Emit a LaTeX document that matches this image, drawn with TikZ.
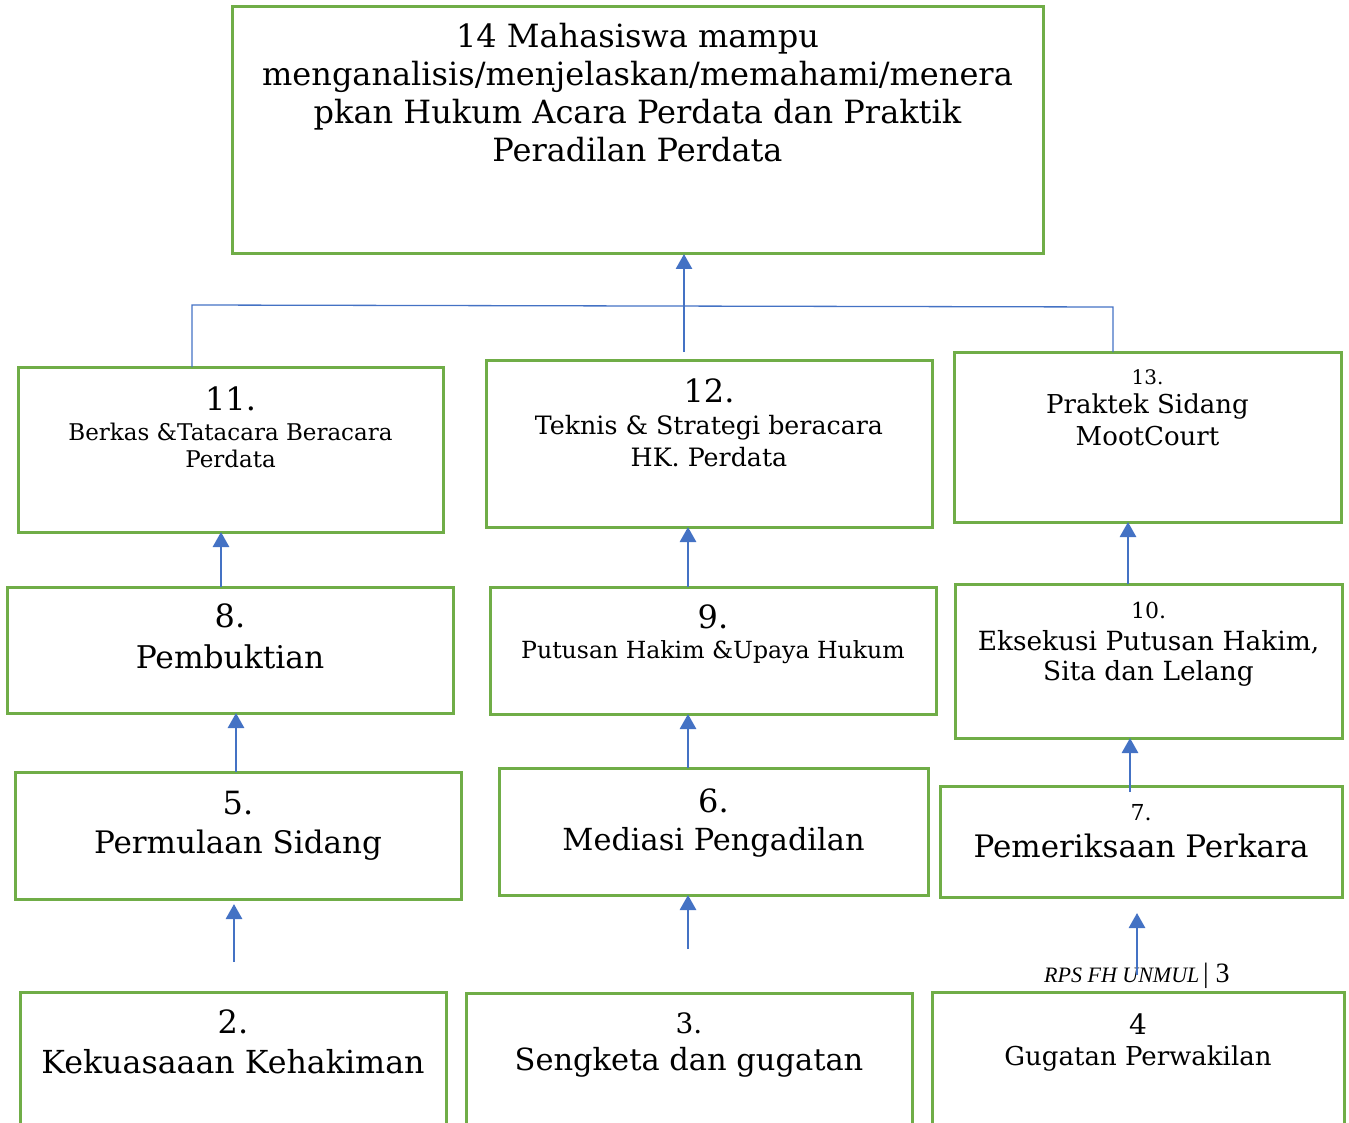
\documentclass[tikz,border=0pt]{standalone}
\usepackage{fontspec}
\setmainfont{DejaVu Serif}
\newfontfamily\footfont{Liberation Serif}
\usetikzlibrary{arrows.meta}
\definecolor{gr}{HTML}{70AD47}
\definecolor{bl}{HTML}{4472C4}
\tikzset{
  gbox/.style={draw=gr, line width=3pt, inner sep=0pt, outer sep=0pt, fill=white},
  arr/.style={draw=bl, line width=2.8pt, -{Triangle[width=16pt,length=15pt]}},
  bline/.style={draw=bl, line width=1.3pt},
  lbl/.style={anchor=base, inner sep=0pt, outer sep=0pt, text=black},
}
\newcommand\mkbox[5]{\node[gbox, minimum width={#4-#2}, minimum height={#5-#3}] (#1) at ({(#2+#4)/2},{(#3+#5)/2}) {};}
\newcommand\mktxt[5]{\node[lbl, font=\fontsize{#4}{#4}\selectfont] (#1) at (#2,#3) {#5};}
\begin{document}
\begin{tikzpicture}[x=1pt,y=-1pt]
\useasboundingbox (0,0) rectangle (1349,1123);
\clip (0,0) rectangle (1349,1123);
% boxes
\mkbox{top}{232}{7}{1043}{254}
\mkbox{b11}{18}{367}{443}{532}
\mkbox{b12}{486}{360}{932}{527}
\mkbox{b13}{954}{352}{1341}{522}
\mkbox{b8}{7}{587}{453}{713}
\mkbox{b9}{490}{587}{936}{714}
\mkbox{b10}{955}{584}{1342}{738}
\mkbox{b5}{15}{772}{461}{899}
\mkbox{b6}{499}{768}{928}{895}
\mkbox{b7}{940}{786}{1342}{897}
\mkbox{b2}{20}{992}{446}{1140}
\mkbox{b3}{466}{993}{912}{1140}
\mkbox{b4}{932}{992}{1344}{1140}
% texts
\mktxt{ta}{637.5}{48}{32}{14 Mahasiswa mampu}
\mktxt{tb}{637.5}{86}{32}{menganalisis/menjelaskan/memahami/menera}
\mktxt{tc}{637.5}{124}{32}{pkan Hukum Acara Perdata dan Praktik}
\mktxt{td}{637.5}{162}{32}{Peradilan Perdata}
\mktxt{n11}{230.5}{410}{32}{11.}
\mktxt{t11a}{230.5}{440}{23}{Berkas \&Tatacara Beracara}
\mktxt{t11b}{230.5}{467}{23}{Perdata}
\mktxt{n12}{709}{402}{32}{12.}
\mktxt{t12a}{709}{434}{25.3}{Teknis \& Strategi beracara}
\mktxt{t12b}{709}{466}{25.3}{HK. Perdata}
\mktxt{n13}{1147.5}{384}{20}{13.}
\mktxt{t13a}{1147.5}{413}{26}{Praktek Sidang}
\mktxt{t13b}{1147.5}{445}{26}{MootCourt}
\mktxt{n8}{230}{627}{32}{8.}
\mktxt{t8}{230}{668}{31.3}{Pembuktian}
\mktxt{n9}{713}{628}{32}{9.}
\mktxt{t9}{713}{658}{23.6}{Putusan Hakim \&Upaya Hukum}
\mktxt{n10}{1148.5}{618}{22}{10.}
\mktxt{t10a}{1148.5}{650}{26.4}{Eksekusi Putusan Hakim,}
\mktxt{t10b}{1148.5}{680}{26.4}{Sita dan Lelang}
\mktxt{n7}{1141}{820}{22}{7.}
\mktxt{t7}{1141}{857}{31}{Pemeriksaan Perkara}
\mktxt{n5}{238}{814}{32}{5.}
\mktxt{t5}{238}{853}{31}{Permulaan Sidang}
\mktxt{n6}{713.5}{812}{32}{6.}
\mktxt{t6}{713.5}{850}{30.4}{Mediasi Pengadilan}
\mktxt{n2}{233}{1033}{32}{2.}
\mktxt{t2}{233}{1073}{31.7}{Kekuasaaan Kehakiman}
\mktxt{n3}{689}{1033}{28}{3.}
\mktxt{t3}{689}{1070}{30.5}{Sengketa dan gugatan}
\mktxt{n4}{1138}{1034}{28}{4}
\mktxt{t4}{1138}{1065}{26}{Gugatan Perwakilan}
% footer
\node[anchor=base west, inner sep=0pt] (foot) at (1044,982)
  {\footfont\fontsize{22}{22}\selectfont\itshape RPS FH UNMUL\,\fontsize{28}{28}\selectfont\upshape | 3};
% connectors
\coordinate (jl) at (192,305);
\coordinate (jr) at (1113,307);
\draw[bline] (b11.north -| jl) -- (jl) -- (jr) -- (b13.north -| jr);
\draw[arr] ([xshift=-25pt,yshift=8pt]b12.north) -- ([xshift=46.5pt]top.south);
\draw[arr] ([xshift=-9pt]b8.north) -- ([xshift=-9.5pt]b11.south);
\draw[arr] ([xshift=-2pt]b5.north) -- ([xshift=6pt]b8.south);
\coordinate (c2) at (234,962);
\coordinate (c5) at (234,904);
\draw[arr] (c2) -- (c5);
\draw[arr] ([xshift=-25pt]b9.north) -- ([xshift=-21pt]b12.south);
\draw[arr] ([xshift=-25.5pt]b6.north) -- ([xshift=-25pt]b9.south);
\coordinate (c3) at (688,949);
\draw[arr] (c3) -- ([xshift=-25.5pt]b6.south);
\draw[arr] ([xshift=-20.5pt]b10.north) -- ([xshift=-19.5pt]b13.south);
\draw[arr] ([xshift=-11pt,yshift=-6pt]b7.north) -- ([xshift=-18.5pt]b10.south);
\coordinate (c4) at (1137,975);
\coordinate (c7) at (1137,913);
\draw[arr] (c4) -- (c7);
\end{tikzpicture}
\end{document}
